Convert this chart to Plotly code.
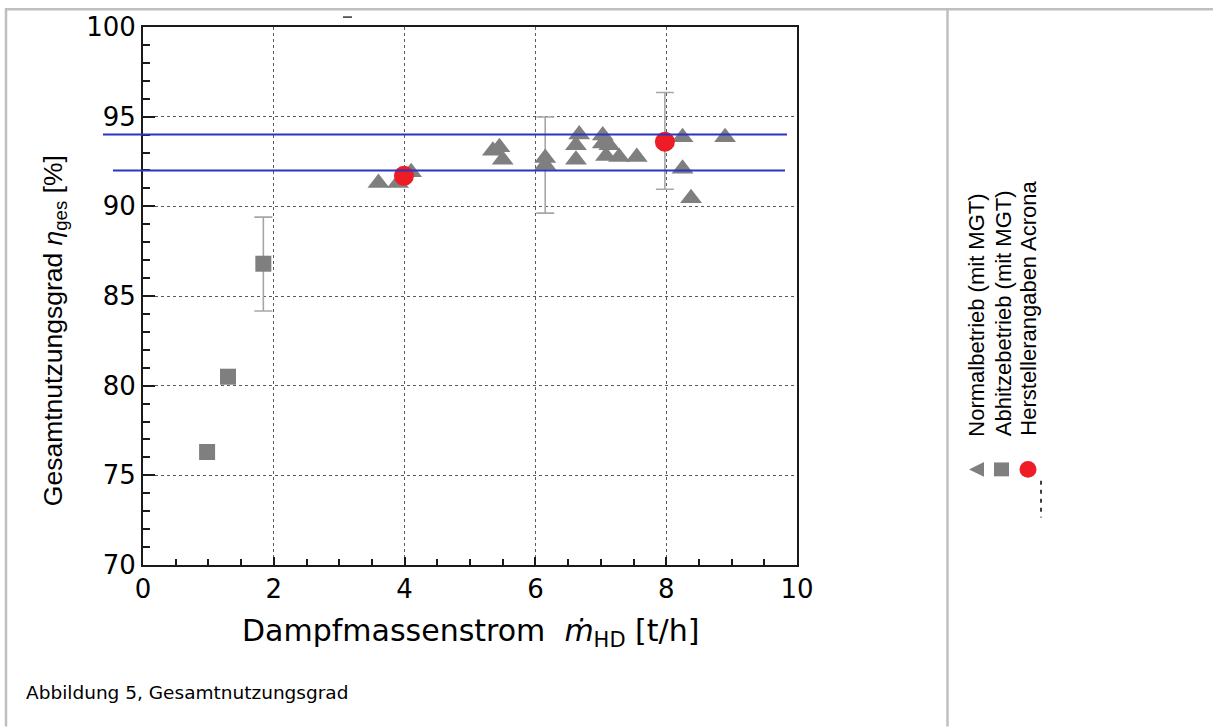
import plotly.graph_objects as go

# ---------------- data ----------------
normal_x = [3.60, 3.90, 4.10, 5.35, 5.45, 5.50, 6.15, 6.15, 6.67, 6.62, 6.62,
            7.03, 7.03, 7.13, 7.08, 7.28, 7.55, 8.25, 8.90, 8.25, 8.38]
normal_y = [91.3, 91.3, 91.9, 93.1, 93.3, 92.6, 92.7, 92.3, 94.0, 93.4, 92.6,
            93.95, 93.5, 93.4, 92.8, 92.75, 92.75, 93.85, 93.85, 92.1, 90.45]

waste_x = [0.98, 1.30, 1.84]
waste_y = [76.3, 80.5, 86.8]

maker_x = [3.99, 7.98]
maker_y = [91.7, 93.6]

err_x = [1.84, 6.15, 7.98]
err_y = [86.78, 92.3, 93.65]
err_pm = [2.62, 2.68, 2.70]

ref_levels = [94.0, 92.0]

x_ticks = [0, 2, 4, 6, 8, 10]
y_ticks = [70, 75, 80, 85, 90, 95, 100]

legend_labels = ["Normalbetrieb (mit MGT)", "Abhitzebetrieb (mit MGT)",
                 "Herstellerangaben Acrona"]
caption = "Abbildung 5, Gesamtnutzungsgrad"

# ---------------- layout helpers ----------------
W, H = 1213, 728
L, R, T, B = 143, 797, 22, 565


def px(x):
    return (x - L) / (R - L)


def py(y):
    return (B - y) / (B - T)


GRAY = "#7f7f7f"
RED = "#ee1c25"
BLUE = "#2a35c0"
FONT = "Liberation Sans, Arial, sans-serif"
WIDE = "DejaVu Sans, sans-serif"

fig = go.Figure()

# error bars (drawn first, beneath markers)
fig.add_trace(go.Scatter(
    x=err_x, y=err_y, mode="markers",
    marker=dict(size=1, color="rgba(0,0,0,0)"),
    error_y=dict(type="data", array=err_pm, visible=True,
                 color="#a6a6a6", thickness=1.6, width=9),
    showlegend=False, hoverinfo="skip"))

fig.add_trace(go.Scatter(
    x=normal_x, y=normal_y, mode="markers", name=legend_labels[0],
    marker=dict(symbol="triangle-up", size=19, color=GRAY),
    showlegend=False))

fig.add_trace(go.Scatter(
    x=waste_x, y=waste_y, mode="markers", name=legend_labels[1],
    marker=dict(symbol="square", size=16, color=GRAY),
    showlegend=False))

fig.add_trace(go.Scatter(
    x=maker_x, y=maker_y, mode="markers", name=legend_labels[2],
    marker=dict(symbol="circle", size=20, color=RED),
    showlegend=False))

shapes = []
# blue reference lines
ref_extent = [(103, 787), (113, 785)]
for lvl, (a, b) in zip(ref_levels, ref_extent):
    shapes.append(dict(type="line", xref="paper", yref="y",
                       x0=px(a), x1=px(b), y0=lvl, y1=lvl,
                       line=dict(color=BLUE, width=2), layer="above"))

# table borders
shapes.append(dict(type="line", xref="paper", yref="paper",
                   x0=px(5), x1=px(1213), y0=py(4), y1=py(4),
                   line=dict(color="#bfbfbf", width=2.5)))
shapes.append(dict(type="line", xref="paper", yref="paper",
                   x0=px(6), x1=px(6), y0=py(3), y1=py(728),
                   line=dict(color="#bfbfbf", width=2.5)))
shapes.append(dict(type="line", xref="paper", yref="paper",
                   x0=px(947.5), x1=px(947.5), y0=py(3), y1=py(728),
                   line=dict(color="#bfbfbf", width=2.5)))
# small stray dash at top
shapes.append(dict(type="line", xref="paper", yref="paper",
                   x0=px(343), x1=px(352), y0=py(12), y1=py(12),
                   line=dict(color="#333333", width=1.5)))

# legend symbols (rotated legend)
tri = "M {a},{b} L {a},{c} L {d},{e} Z".format(
    a=px(984), b=py(461), c=py(476), d=px(969), e=py(468.5))
shapes.append(dict(type="path", xref="paper", yref="paper", path=tri,
                   fillcolor=GRAY, line=dict(width=0)))
shapes.append(dict(type="rect", xref="paper", yref="paper",
                   x0=px(994), x1=px(1009), y0=py(461.5), y1=py(475.5),
                   fillcolor=GRAY, line=dict(width=0)))
shapes.append(dict(type="circle", xref="paper", yref="paper",
                   x0=px(1019.5), x1=px(1036.5), y0=py(460), y1=py(477),
                   fillcolor=RED, line=dict(width=0)))
shapes.append(dict(type="line", xref="paper", yref="paper",
                   x0=px(1041), x1=px(1041), y0=py(480), y1=py(517),
                   line=dict(color="black", width=1.5, dash="4px,5px")))

annotations = []
leg_x = [977, 1003, 1029]
for lab, lx in zip(legend_labels, leg_x):
    annotations.append(dict(
        text=lab, xref="paper", yref="paper", x=px(lx), y=py(437),
        xanchor="center", yanchor="bottom", textangle=-90, showarrow=False,
        font=dict(family=FONT, size=22, color="black")))

# axis titles
annotations.append(dict(
    text="Gesamtnutzungsgrad <i>η</i><sub>ges</sub> [%]",
    xref="paper", yref="paper", x=px(55), y=py(329),
    xanchor="center", yanchor="middle", textangle=-90, showarrow=False,
    font=dict(family=FONT, size=26.5, color="black")))
annotations.append(dict(
    text="Dampfmassenstrom  <i>ṁ</i><sub>HD</sub> [t/h]",
    xref="paper", yref="paper", x=px(470), y=py(633),
    xanchor="center", yanchor="middle", showarrow=False,
    font=dict(family=WIDE, size=30, color="black")))
annotations.append(dict(
    text=caption, xref="paper", yref="paper", x=px(24), y=py(694),
    xanchor="left", yanchor="middle", showarrow=False,
    font=dict(family=WIDE, size=18.5, color="black")))

axis_common = dict(
    showline=True, linecolor="#1a1a1a", linewidth=2, mirror=True,
    showgrid=True, gridcolor="#5a5a5a", gridwidth=1, griddash="3px,3px",
    zeroline=False, ticks="inside", tickcolor="#1a1a1a", tickwidth=1.5,
    tickfont=dict(family=WIDE, size=26, color="black"),
)

fig.update_layout(
    width=W, height=H,
    margin=dict(l=L, r=W - R, t=T, b=H - B, pad=0),
    paper_bgcolor="white", plot_bgcolor="white",
    showlegend=False,
    xaxis=dict(range=[0, 10], tickvals=x_ticks, ticklen=8,
               minor=dict(dtick=0.5, ticks="inside", ticklen=6,
                          tickcolor="#1a1a1a", showgrid=False),
               **axis_common),
    yaxis=dict(range=[70, 100], tickvals=y_ticks, ticklen=12,
               minor=dict(dtick=1, ticks="inside", ticklen=7,
                          tickcolor="#1a1a1a", showgrid=False),
               **axis_common),
    shapes=shapes,
    annotations=annotations,
)

fig.write_html(
    "out.html",
    config={"displayModeBar": False},
    post_script="document.body.style.margin='0';"
                "document.body.style.overflow='hidden';",
)
